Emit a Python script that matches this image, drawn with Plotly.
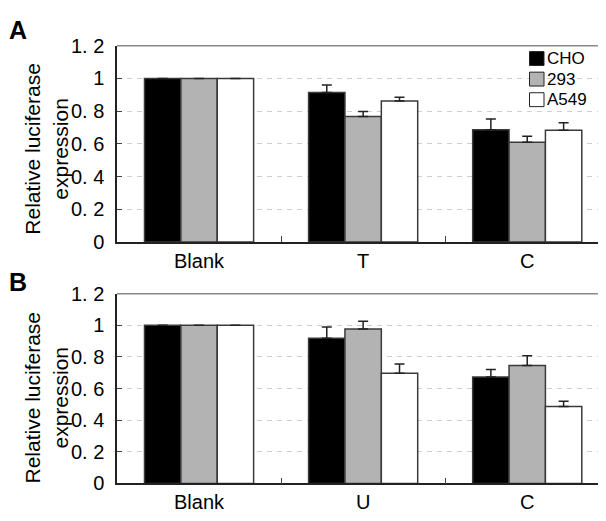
import plotly.graph_objects as go

# ---- data ----
series = ["CHO", "293", "A549"]
fills = ["#000000", "#b3b3b3", "#ffffff"]

cats_a = ["Blank", "T", "C"]
a_cho = [1.0, 0.915, 0.686]
a_cho_err = [0, 0.045, 0.066]
a_293 = [1.0, 0.768, 0.610]
a_293_err = [0, 0.030, 0.037]
a_a549 = [1.0, 0.863, 0.684]
a_a549_err = [0, 0.023, 0.045]

cats_b = ["Blank", "U", "C"]
b_cho = [1.0, 0.918, 0.673]
b_cho_err = [0, 0.072, 0.048]
b_293 = [1.0, 0.976, 0.746]
b_293_err = [0, 0.050, 0.061]
b_a549 = [1.0, 0.697, 0.486]
b_a549_err = [0, 0.059, 0.034]

ytick_vals = [0, 0.2, 0.4, 0.6, 0.8, 1.0, 1.2]
ytick_text = ["0", "0. 2", "0. 4", "0. 6", "0. 8", "1", "1. 2"]

FONT = "Liberation Sans, Arial, sans-serif"
OFF = 8                      # page body margin
W, H = 606 - OFF, 521 - OFF  # figure size so it fits the window


def px(x):
    return (x - OFF) / W


def py(y):
    return 1 - (y - OFF) / H


fig = go.Figure()

panels = [
    (cats_a, [a_cho, a_293, a_a549], [a_cho_err, a_293_err, a_a549_err], "x", "y"),
    (cats_b, [b_cho, b_293, b_a549], [b_cho_err, b_293_err, b_a549_err], "x2", "y2"),
]
for cats, vals, errs, xa, ya in panels:
    for name, fill, v, e in zip(series, fills, vals, errs):
        fig.add_trace(go.Bar(
            x=cats, y=v, name=name, xaxis=xa, yaxis=ya, showlegend=False,
            marker=dict(color=fill, line=dict(color="#3a3a3a", width=1.5)),
            error_y=dict(type="data", symmetric=False, array=e,
                         arrayminus=[0] * len(e), color="#222222",
                         thickness=1.5, width=5),
        ))

xcommon = dict(domain=[px(117), 1], range=[-0.5, 2.48], showline=True,
               linecolor="#222222", linewidth=1.5, ticks="inside",
               tickson="boundaries", ticklen=6, tickcolor="#444444",
               tickfont=dict(family=FONT, size=20, color="#000"),
               showgrid=False, zeroline=False)
ycommon = dict(range=[0, 1.2], tickvals=ytick_vals, ticktext=ytick_text,
               showline=True, linecolor="#222222", linewidth=1.5,
               ticks="inside", ticklen=5, tickcolor="#444444",
               tickfont=dict(family=FONT, size=20, color="#000"),
               ticklabelstandoff=7,
               showgrid=True, gridcolor="#cfcfcf", gridwidth=1,
               griddash="5px,5px", zeroline=False)

fig.update_layout(
    width=W, height=H, margin=dict(l=0, r=0, t=0, b=0),
    paper_bgcolor="white", plot_bgcolor="white",
    barmode="group", bargap=0.335, bargroupgap=0,
    xaxis=dict(anchor="y", **xcommon),
    xaxis2=dict(anchor="y2", **xcommon),
    yaxis=dict(domain=[py(241), py(36)], anchor="x", **ycommon),
    yaxis2=dict(domain=[py(493.3), py(295)], anchor="x2", **ycommon),
    font=dict(family=FONT, color="#000"),
)

# top border lines
for xr, yr in [("x domain", "y domain"), ("x2 domain", "y2 domain")]:
    fig.add_shape(type="line", xref=xr, yref=yr, x0=0, x1=1, y0=1, y1=1,
                  line=dict(color="#8a8a8a", width=1.5))

ann = []
# panel letters
for letter, yc in [("A", 19.5), ("B", 282.5)]:
    ann.append(dict(text="<b>%s</b>" % letter, x=px(7), y=py(yc),
                    xref="paper", yref="paper", xanchor="left", yanchor="middle",
                    showarrow=False, font=dict(family=FONT, size=25, color="#000")))
# y titles
for yc in [143.5, 403.5]:
    ann.append(dict(text="Relative luciferase<br>expression", x=px(46), y=py(yc),
                    xref="paper", yref="paper", xanchor="center", yanchor="middle",
                    textangle=-90, showarrow=False,
                    font=dict(family=FONT, size=21, color="#000")))

# custom legend (panel A)
sq = 14.5
row_y = [49.3, 70.8, 92.3]
for name, fill, cy in zip(series, fills, row_y):
    fig.add_shape(type="rect", xref="paper", yref="paper",
                  x0=px(529.5), x1=px(529.5 + sq),
                  y0=py(cy + sq / 2), y1=py(cy - sq / 2),
                  line=dict(color="#222222", width=1), fillcolor=fill)
    ann.append(dict(text=name, x=px(545), y=py(cy), xref="paper", yref="paper",
                    xanchor="left", yanchor="middle", showarrow=False,
                    font=dict(family=FONT, size=17, color="#000")))

fig.update_layout(annotations=ann)
fig.write_html("out.html")
